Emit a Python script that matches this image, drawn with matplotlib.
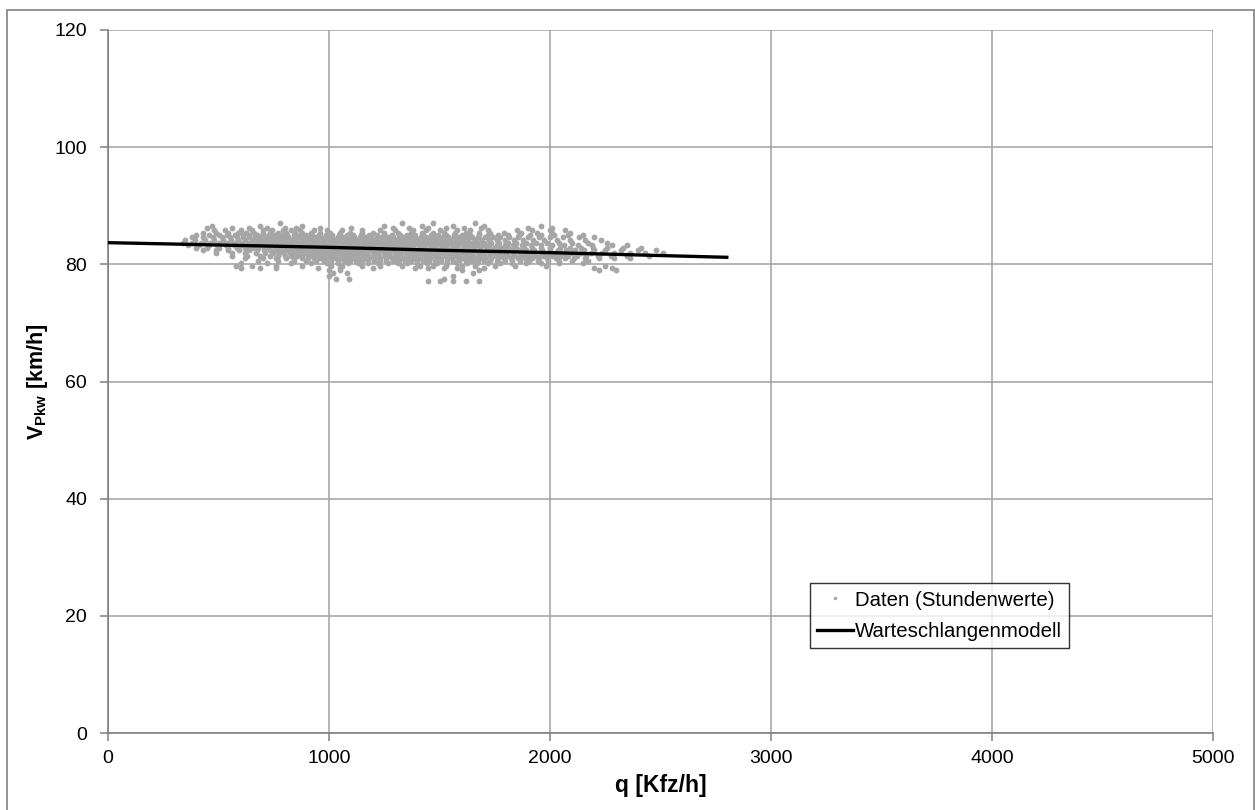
import matplotlib
matplotlib.use("Agg")
import matplotlib.pyplot as plt
from matplotlib.patches import Rectangle

plt.rcParams['font.family'] = ['Liberation Sans', 'DejaVu Sans']
plt.rcParams['mathtext.fontset'] = 'custom'
plt.rcParams['mathtext.rm'] = 'Liberation Sans'
plt.rcParams['mathtext.bf'] = 'Liberation Sans:bold'

# hourly data (speed level -> flows)
v_levels = [87.1, 86.6, 86.2, 85.8, 85.4, 85.0, 84.6, 84.2, 83.7, 83.3, 82.8,
            82.4, 81.9, 81.5, 81.0, 80.6, 80.2, 79.8, 79.4, 79.0, 78.6, 78.0,
            77.5, 77.1]
q_rows = [
    [780, 1330, 1470, 1660],
    [470, 690, 880, 1250, 1420, 1560, 1700, 1960],
    [450, 560, 640, 720, 800, 850, 960, 1100, 1290, 1360, 1450, 1530, 1610,
     1690, 1900, 2010],
    [480, 530, 600, 650, 700, 740, 790, 830, 870, 930, 990, 1060, 1150, 1230,
     1300, 1380, 1440, 1500, 1580, 1640, 1720, 1850, 1920, 2000, 2070],
    [430, 490, 545, 590, 625, 660, 700, 735, 770, 805, 845, 880, 920, 960,
     1005, 1050, 1095, 1150, 1200, 1250, 1310, 1370, 1420, 1470, 1520, 1570,
     1620, 1680, 1730, 1790, 1870, 1940, 2010, 2090],
    [400, 455, 500, 540, 575, 610, 640, 672, 700, 728, 757, 785, 812, 840,
     870, 898, 925, 955, 985, 1015, 1045, 1080, 1110, 1145, 1180, 1215, 1250,
     1285, 1320, 1355, 1390, 1425, 1460, 1495, 1530, 1565, 1600, 1640, 1680,
     1720, 1765, 1810, 1860, 1910, 1960, 2020, 2080, 2150],
    [380, 430, 475, 515, 550, 582, 612, 640, 665, 690, 715, 740, 765, 790,
     815, 840, 865, 890, 915, 940, 965, 990, 1015, 1040, 1065, 1090, 1115,
     1140, 1165, 1190, 1215, 1240, 1265, 1290, 1315, 1340, 1365, 1390, 1415,
     1440, 1465, 1490, 1515, 1540, 1565, 1590, 1615, 1645, 1675, 1705, 1740,
     1775, 1815, 1855, 1900, 1950, 2000, 2060, 2130, 2200],
    [350, 395, 440, 480, 520, 555, 590, 620, 650, 677, 703, 728, 752, 778,
     803, 828, 852, 877, 903, 928, 952, 978, 1003, 1028, 1052, 1078, 1103,
     1128, 1152, 1178, 1203, 1228, 1252, 1278, 1303, 1328, 1352, 1378, 1403,
     1428, 1452, 1478, 1503, 1528, 1552, 1578, 1603, 1630, 1660, 1690, 1722,
     1758, 1795, 1835, 1878, 1925, 1975, 2030, 2090, 2160, 2230],
    [340, 380, 420, 460, 500, 540, 575, 608, 640, 667, 692, 717, 742, 767,
     792, 817, 842, 867, 892, 917, 942, 967, 992, 1017, 1042, 1067, 1092,
     1117, 1142, 1167, 1192, 1217, 1242, 1267, 1292, 1317, 1342, 1367, 1392,
     1417, 1442, 1467, 1492, 1517, 1542, 1567, 1592, 1617, 1645, 1673, 1703,
     1735, 1770, 1808, 1848, 1890, 1935, 1985, 2040, 2100, 2170, 2260],
    [360, 410, 455, 495, 535, 570, 602, 632, 660, 685, 710, 735, 760, 785,
     810, 835, 860, 885, 910, 935, 960, 985, 1010, 1035, 1060, 1085, 1110,
     1135, 1160, 1185, 1210, 1235, 1260, 1285, 1310, 1335, 1360, 1385, 1410,
     1435, 1460, 1485, 1510, 1535, 1560, 1585, 1610, 1638, 1666, 1695, 1726,
     1760, 1795, 1832, 1872, 1915, 1960, 2010, 2065, 2125, 2190, 2280, 2350],
    [400, 450, 500, 545, 585, 620, 652, 680, 705, 730, 755, 780, 805, 830,
     855, 880, 905, 930, 955, 980, 1005, 1030, 1055, 1080, 1105, 1130, 1155,
     1180, 1205, 1230, 1255, 1280, 1305, 1330, 1355, 1380, 1405, 1430, 1455,
     1480, 1505, 1530, 1555, 1580, 1605, 1630, 1657, 1685, 1714, 1745, 1777,
     1810, 1845, 1882, 1920, 1960, 2002, 2046, 2092, 2140, 2195, 2260, 2330,
     2410],
    [430, 490, 545, 595, 640, 675, 705, 733, 758, 783, 808, 833, 858, 883,
     908, 933, 958, 983, 1008, 1033, 1058, 1083, 1108, 1133, 1158, 1183, 1208,
     1233, 1258, 1283, 1308, 1333, 1358, 1383, 1408, 1433, 1458, 1483, 1508,
     1533, 1558, 1583, 1608, 1633, 1658, 1683, 1710, 1738, 1767, 1797, 1828,
     1860, 1893, 1927, 1962, 1998, 2035, 2073, 2112, 2155, 2200, 2250, 2320,
     2400, 2480],
    [490, 560, 620, 670, 712, 745, 772, 797, 822, 847, 872, 897, 922, 947,
     972, 997, 1022, 1047, 1072, 1097, 1122, 1147, 1172, 1197, 1222, 1247,
     1272, 1297, 1322, 1347, 1372, 1397, 1422, 1447, 1472, 1497, 1522, 1547,
     1572, 1597, 1622, 1647, 1672, 1697, 1722, 1748, 1775, 1803, 1832, 1862,
     1893, 1925, 1958, 1992, 2027, 2063, 2100, 2140, 2185, 2235, 2290, 2360,
     2430, 2510],
    [560, 630, 690, 735, 770, 800, 827, 853, 878, 903, 928, 953, 978, 1003,
     1028, 1053, 1078, 1103, 1128, 1153, 1178, 1203, 1228, 1253, 1278, 1303,
     1328, 1353, 1378, 1403, 1428, 1453, 1478, 1503, 1528, 1553, 1578, 1603,
     1628, 1653, 1678, 1703, 1728, 1755, 1783, 1812, 1842, 1873, 1905, 1938,
     1972, 2007, 2043, 2080, 2120, 2165, 2215, 2275, 2350, 2450],
    [620, 700, 760, 805, 843, 876, 905, 932, 958, 983, 1008, 1033, 1058,
     1083, 1108, 1133, 1158, 1183, 1208, 1233, 1258, 1283, 1308, 1333, 1358,
     1383, 1408, 1433, 1458, 1483, 1508, 1533, 1558, 1583, 1608, 1633, 1658,
     1683, 1708, 1735, 1763, 1792, 1822, 1853, 1885, 1918, 1952, 1988, 2026,
     2066, 2110, 2160, 2220, 2290, 2360],
    [680, 770, 840, 895, 940, 978, 1010, 1040, 1068, 1095, 1122, 1150, 1178,
     1205, 1232, 1260, 1288, 1315, 1342, 1370, 1398, 1425, 1452, 1480, 1508,
     1535, 1562, 1590, 1618, 1645, 1672, 1700, 1730, 1762, 1795, 1830, 1866,
     1905, 1945, 1990, 2040, 2100, 2170],
    [600, 720, 830, 920, 990, 1040, 1085, 1130, 1175, 1220, 1265, 1310, 1355,
     1400, 1445, 1490, 1535, 1580, 1625, 1670, 1720, 1775, 1830, 1890, 1960,
     2040, 2150],
    [580, 650, 760, 880, 1010, 1060, 1150, 1230, 1330, 1410, 1470, 1530, 1600,
     1660, 1750, 1840, 1980, 2250],
    [600, 690, 760, 950, 1050, 1200, 1390, 1450, 1520, 1580, 1700, 2200, 2280],
    [1000, 1050, 1600, 1680, 2220, 2300],
    [1020, 1080, 1650],
    [1000, 1560],
    [1030, 1090, 1520],
    [1450, 1500, 1560, 1620, 1680],
]

# queueing model curve
q_model = [0, 500, 1000, 1500, 2000, 2500, 2800]
v_model = [83.7, 83.3, 82.9, 82.4, 82.0, 81.5, 81.2]

q_data = []
v_data = []
for v, row in zip(v_levels, q_rows):
    q_data += row
    v_data += [v] * len(row)

fig = plt.figure(figsize=(12.55, 8.10), dpi=100)
fig.patches.append(Rectangle((7 / 1255, -0.01), 1247 / 1255, 1 - 10 / 810 + 0.01,
                             transform=fig.transFigure, fill=False,
                             edgecolor='#808080', linewidth=1.2))
ax = fig.add_axes([108 / 1255, 77 / 810, 1105 / 1255, 703 / 810])

ax.plot(q_data, v_data, 'o', color='#a6a6a6', markersize=4.2,
        markeredgewidth=0, label='Daten (Stundenwerte)', zorder=3)
ax.plot(q_model, v_model, '-', color='black', linewidth=2.4,
        label='Warteschlangenmodell', zorder=4)

ax.set_xlim(0, 5000)
ax.set_ylim(0, 120)
ax.set_xticks([0, 1000, 2000, 3000, 4000, 5000])
ax.set_yticks([0, 20, 40, 60, 80, 100, 120])
ax.grid(True, color='#a0a0a0', linewidth=1.1)
ax.set_axisbelow(True)
for s in ['top', 'right']:
    ax.spines[s].set_visible(False)
for s in ['left', 'bottom']:
    ax.spines[s].set_color('#808080')
    ax.spines[s].set_linewidth(1.2)
ax.tick_params(axis='both', colors='#808080', length=6, width=1.1,
               labelsize=14, labelcolor='black')
ax.tick_params(axis='y', pad=9)
ax.tick_params(axis='x', pad=6)

ax.set_xlabel('q [Kfz/h]', fontsize=16.5, fontweight='bold', labelpad=5)
ax.set_ylabel(r'$\mathbf{V_{Pkw}}$ [km/h]', fontsize=15.5, fontweight='bold',
              labelpad=3)

leg = ax.legend(loc='lower left', bbox_to_anchor=(0.635, 0.121), fontsize=14.7,
                frameon=True, fancybox=False, edgecolor='black',
                handlelength=1.75, handletextpad=0.1, borderpad=0.35,
                borderaxespad=0, markerscale=0.6, labelspacing=0.6)
leg.get_frame().set_linewidth(1.0)

fig.savefig('out.png', dpi=100)
